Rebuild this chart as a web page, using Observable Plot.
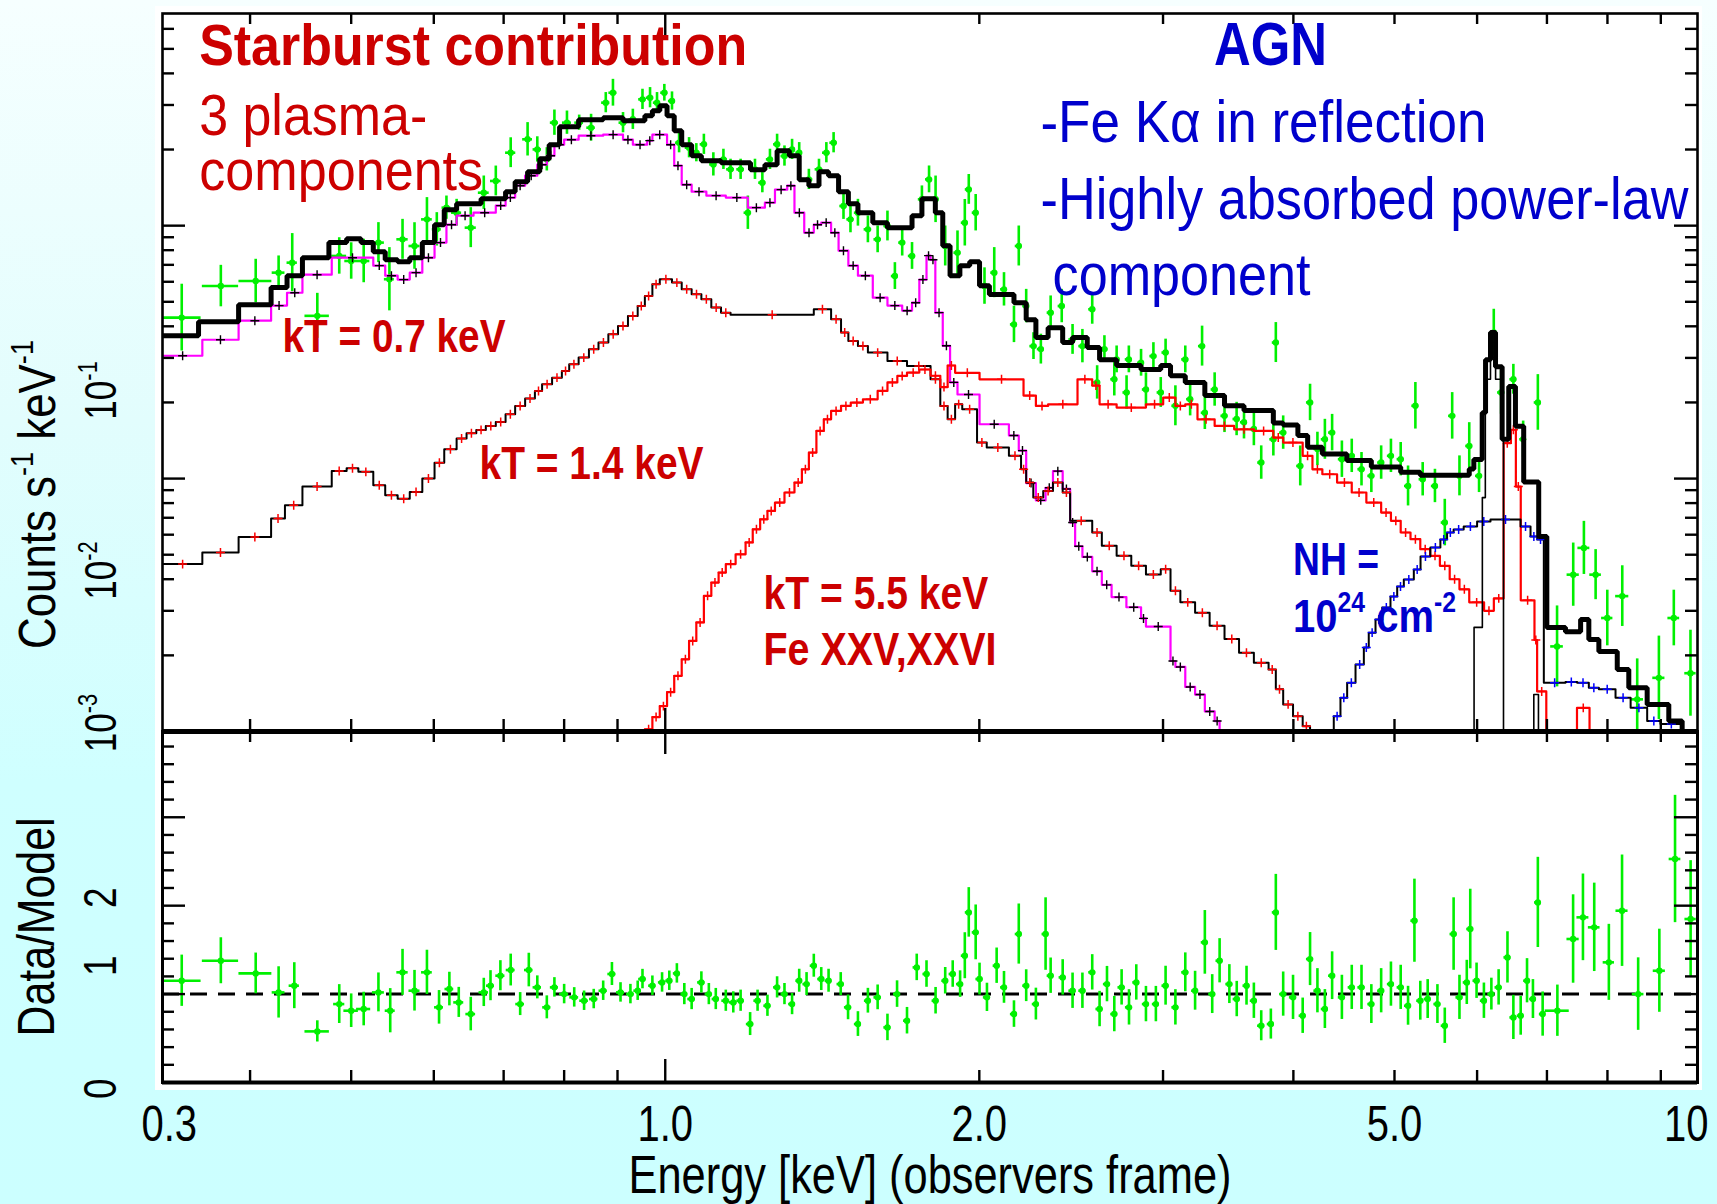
<!DOCTYPE html>
<html><head><meta charset="utf-8">
<script src="https://cdn.jsdelivr.net/npm/d3@7"></script>
<script src="https://cdn.jsdelivr.net/npm/@observablehq/plot@0.6"></script>
<style>
html,body{margin:0;padding:0;}
body{width:1717px;height:1204px;overflow:hidden;background:linear-gradient(180deg,#f6ffff 0%,#e2fdfd 35%,#cfffff 65%,#ccffff 100%);}
#wrap{position:relative;width:1717px;height:1204px;}
#paper{position:absolute;left:155px;top:6px;width:1547px;height:1084px;background:#ffffff;}
#upper{position:absolute;left:0;top:0;}
#lower{position:absolute;left:0;top:700px;}
</style></head>
<body><div id="wrap"><div id="paper"></div><div id="upper"></div><div id="lower"></div></div>
<script>
// ---------------- data ----------------
const xDomain = [0.3297, 9.759];
const yDomainUpper = [0.001, 0.69];
const yDomainLower = [0, 3.97];

// total model (thick black), bin left edges and values [counts s^-1 keV^-1]
const totE = [0.330,0.357,0.390,0.419,0.434,0.449,0.476,0.495,0.511,0.525,0.539,0.554,0.569,0.585,0.601,0.614,0.631,0.666,0.703,0.718,0.738,0.758,0.774,0.792,0.826,0.872,0.911,0.956,0.972,0.988,1.004,1.020,1.037,1.060,1.083,1.131,1.207,1.246,1.280,1.315,1.344,1.373,1.404,1.434,1.466,1.498,1.530,1.581,1.633,1.724,1.762,1.815,1.845,1.875,1.916,1.958,2.001,2.045,2.159,2.218,2.266,2.328,2.404,2.457,2.538,2.608,2.708,2.858,2.985,3.050,3.151,3.290,3.436,3.587,3.827,3.911,4.040,4.128,4.264,4.501,4.751,5.069,5.293,5.897,5.957,6.068,6.113,6.180,6.249,6.341,6.434,6.530,6.650,6.874,6.998,7.292,7.540,7.678,7.850,8.175,8.386,8.733,9.160,9.434];
const totV = [0.0367,0.0417,0.0487,0.0569,0.0634,0.0747,0.0857,0.0888,0.0857,0.0789,0.0733,0.0720,0.0747,0.0857,0.1009,0.1157,0.1222,0.1279,0.1363,0.1492,0.1634,0.1840,0.2090,0.2461,0.2624,0.2673,0.2600,0.2721,0.2848,0.2980,0.2721,0.2373,0.2090,0.1891,0.1806,0.1774,0.1665,0.1742,0.1978,0.1891,0.1520,0.1439,0.1634,0.1576,0.1363,0.1222,0.1125,0.1028,0.0982,0.1095,0.1279,0.1125,0.0833,0.0634,0.0695,0.0720,0.0579,0.0534,0.0496,0.0425,0.0361,0.0395,0.0345,0.0361,0.0330,0.0295,0.0280,0.0270,0.0280,0.0255,0.0240,0.0213,0.0194,0.0186,0.0166,0.0163,0.0148,0.0133,0.0125,0.0118,0.0111,0.0106,0.0103,0.0109,0.0119,0.0182,0.0295,0.0378,0.0277,0.0143,0.0231,0.0161,0.0097,0.0059,0.00258,0.00248,0.00277,0.00231,0.00207,0.00176,0.00149,0.00128,0.00110,0.0007];

// kT = 0.7 keV plasma (magenta)
const m07E = [0.330,0.360,0.390,0.419,0.434,0.449,0.479,0.525,0.539,0.554,0.569,0.585,0.601,0.617,0.631,0.655,0.688,0.703,0.718,0.734,0.754,0.770,0.783,0.800,0.826,0.872,0.911,0.931,0.961,0.972,1.004,1.020,1.037,1.060,1.095,1.143,1.200,1.246,1.274,1.309,1.330,1.359,1.388,1.411,1.442,1.466,1.498,1.530,1.581,1.633,1.687,1.724,1.752,1.780,1.796,1.815,1.845,1.875,1.906,2.001,2.135,2.182,2.218,2.266,2.315,2.353,2.404,2.444,2.471,2.511,2.566,2.621,2.678,2.767,2.858,2.889,3.050,3.083,3.151,3.220,3.290,3.362,3.399];
const m07V = [0.0306,0.0354,0.0421,0.0483,0.0543,0.0640,0.0747,0.0695,0.0634,0.0612,0.0652,0.0747,0.0857,0.1009,0.1095,0.1125,0.1200,0.1291,0.1439,0.1576,0.1742,0.1891,0.2090,0.2187,0.2268,0.2290,0.2187,0.2090,0.2168,0.2290,0.2090,0.1727,0.1452,0.1363,0.1314,0.1291,0.1178,0.1233,0.1388,0.1439,0.1125,0.0938,0.1009,0.1028,0.0938,0.0796,0.0695,0.0634,0.0519,0.0483,0.0461,0.0496,0.0612,0.0761,0.0733,0.0453,0.0335,0.0240,0.0215,0.0164,0.0148,0.0129,0.0096,0.0082,0.0092,0.0107,0.0091,0.0067,0.0054,0.0049,0.0043,0.0038,0.0034,0.0031,0.0028,0.0026,0.0019,0.0018,0.0015,0.0014,0.0012,0.0011,0.0007];

// kT = 1.4 keV plasma (black, red markers)
const m14E = [0.330,0.360,0.390,0.419,0.432,0.449,0.479,0.495,0.508,0.525,0.539,0.554,0.569,0.585,0.601,0.614,0.631,0.645,0.659,0.673,0.688,0.703,0.718,0.734,0.750,0.762,0.779,0.796,0.809,0.826,0.845,0.863,0.882,0.901,0.921,0.941,0.956,0.972,0.988,1.015,1.037,1.060,1.083,1.107,1.131,1.155,1.388,1.442,1.474,1.498,1.530,1.564,1.633,1.705,1.796,1.835,1.865,1.896,1.926,1.990,2.033,2.135,2.193,2.218,2.253,2.303,2.353,2.404,2.444,2.566,2.621,2.708,2.797,2.889,2.985,3.050,3.117,3.220,3.325,3.436,3.548,3.666,3.787,3.848,3.911,3.997,4.083,4.150];
const m14V = [0.00459,0.00510,0.00588,0.00695,0.00784,0.00930,0.01072,0.01098,0.01063,0.00941,0.00859,0.00833,0.00886,0.0100,0.01156,0.01305,0.01439,0.01510,0.01558,0.01615,0.01675,0.01795,0.01938,0.02071,0.02221,0.02359,0.02507,0.02665,0.02830,0.03008,0.03245,0.0345,0.03719,0.04014,0.04395,0.04816,0.05274,0.05861,0.06135,0.05954,0.05600,0.05352,0.05114,0.04742,0.04529,0.04447,0.04669,0.04263,0.0378,0.03502,0.03345,0.03148,0.02919,0.02789,0.02469,0.01938,0.01715,0.01966,0.01879,0.01388,0.01326,0.01230,0.01088,0.00964,0.00841,0.00894,0.00964,0.00881,0.00681,0.00612,0.00542,0.00495,0.00452,0.00418,0.00438,0.00360,0.00324,0.00295,0.00262,0.00232,0.00205,0.00187,0.00176,0.00147,0.00128,0.00115,0.00105,0.0007];

// kT = 5.5 keV plasma with Fe XXV, XXVI lines (red)
const m55E = [0.940,0.956,0.972,0.988,1.004,1.020,1.037,1.054,1.071,1.089,1.107,1.125,1.143,1.168,1.194,1.213,1.233,1.253,1.274,1.301,1.330,1.352,1.373,1.396,1.419,1.442,1.474,1.506,1.547,1.598,1.633,1.669,1.705,1.752,1.796,1.835,1.865,1.896,2.001,2.205,2.266,2.328,2.484,2.566,2.608,2.708,2.889,3.001,3.083,3.151,3.237,3.362,3.510,3.666,3.827,3.911,4.083,4.172,4.264,4.405,4.550,4.699,4.855,4.961,5.069,5.180,5.293,5.409,5.527,5.648,5.771,5.897,6.093,6.226,6.362,6.465,6.536,6.607,6.810,6.850,6.990,7.480,7.690];
const m55V = [0.0007,0.00102,0.00114,0.00126,0.00143,0.00166,0.00193,0.00228,0.00270,0.00344,0.00388,0.00425,0.00459,0.00502,0.00559,0.00630,0.00690,0.00745,0.00804,0.00881,0.00964,0.01088,0.01267,0.01543,0.01715,0.01851,0.01938,0.01997,0.02058,0.02221,0.0240,0.02546,0.02624,0.0270,0.0255,0.0230,0.0280,0.0262,0.02469,0.0213,0.01938,0.01966,0.02469,0.02331,0.01966,0.01908,0.01966,0.02090,0.01938,0.01966,0.01715,0.01615,0.01566,0.01543,0.01453,0.01388,0.01230,0.01088,0.0104,0.00964,0.00881,0.00804,0.00734,0.00681,0.00612,0.00576,0.00526,0.00495,0.00452,0.0040,0.00365,0.00324,0.0030,0.00336,0.0138,0.0156,0.0093,0.0033,0.0023,0.00144,0.0007,0.00124,0.0007];

// highly absorbed power law, NH = 1e24 (black, blue markers)
const plE = [4.300,4.373,4.438,4.504,4.588,4.673,4.724,4.795,4.866,4.956,5.030,5.104,5.218,5.296,5.412,5.533,5.615,5.697,5.825,6.000,6.180,6.604,6.751,6.851,6.952,7.292,7.483,7.678,7.850,8.144,8.420,8.733,8.994,9.434];
const plV = [0.0007,0.00115,0.00136,0.00156,0.00184,0.00215,0.00246,0.00277,0.00309,0.00342,0.00374,0.00399,0.00437,0.00492,0.00534,0.00574,0.00612,0.00629,0.00646,0.00676,0.00689,0.00646,0.0059,0.00574,0.00156,0.00157,0.00156,0.00149,0.00147,0.00136,0.00124,0.0011,0.00107,0.0007];

// Fe K alpha line in reflection (thin black)
const feE = [5.900,5.960,6.070,6.110,6.180,6.250,6.340,6.360,6.800,6.870];
const feV = [0.0007,0.00258,0.00841,0.0247,0.0345,0.0247,0.01426,0.0007,0.0014,0.0007];

// data points, upper panel: energy, counts, error (dex), energy half-width (keV)
const ptE = [0.344,0.375,0.405,0.426,0.439,0.464,0.487,0.500,0.514,0.531,0.544,0.560,0.575,0.591,0.604,0.617,0.631,0.651,0.670,0.688,0.711,0.738,0.754,0.770,0.783,0.805,0.827,0.849,0.877,0.891,0.911,0.931,0.951,0.967,0.982,0.998,1.015,1.031,1.054,1.071,1.089,1.112,1.137,1.155,1.181,1.200,1.219,1.239,1.260,1.280,1.301,1.323,1.344,1.373,1.404,1.427,1.450,1.482,1.505,1.530,1.564,1.598,1.633,1.660,1.687,1.724,1.762,1.790,1.816,1.855,1.906,1.937,1.954,1.984,2.023,2.067,2.112,2.159,2.182,2.218,2.254,2.291,2.341,2.399,2.457,2.511,2.566,2.636,2.708,2.782,2.858,2.937,3.017,3.151,3.270,3.848,2.594,2.694,2.768,2.889,2.985,3.083,3.185,3.290,3.362,3.436,3.529,3.587,3.666,3.726,3.827,3.911,4.061,4.150,4.218,4.288,4.357,4.452,4.550,4.649,4.751,4.855,4.961,5.069,5.152,5.236,5.321,5.467,5.587,5.679,5.771,5.897,6.026,6.225,6.327,6.500,6.642,6.861,7.158,7.418,7.595,7.794,7.997,8.266,8.543,8.962,9.262,9.609];
const ptV = [0.0433,0.0577,0.0604,0.0652,0.0714,0.0440,0.0759,0.0725,0.0725,0.0857,0.0614,0.0883,0.0831,0.1059,0.0967,0.1178,0.1125,0.0982,0.1350,0.1502,0.1943,0.2195,0.2002,0.1829,0.2554,0.2554,0.2554,0.2440,0.3064,0.3354,0.2554,0.2633,0.3158,0.3206,0.3064,0.3354,0.3111,0.2128,0.2033,0.1943,0.2097,0.1747,0.1829,0.1670,0.1670,0.1125,0.1670,0.1479,0.1829,0.2097,0.1885,0.2002,0.1943,0.1524,0.1670,0.1943,0.2128,0.1196,0.1059,0.1125,0.0967,0.0883,0.0997,0.0632,0.0857,0.0759,0.1271,0.1524,0.1271,0.0831,0.0782,0.1027,0.1391,0.1125,0.0577,0.0652,0.0560,0.0407,0.0831,0.0481,0.0334,0.0325,0.0453,0.0481,0.0355,0.0334,0.0467,0.0325,0.0296,0.0296,0.0287,0.0305,0.0315,0.0296,0.0334,0.0345,0.0240,0.0247,0.0219,0.0225,0.0219,0.0194,0.0206,0.0182,0.0225,0.0177,0.0172,0.0167,0.0157,0.01157,0.0143,0.0152,0.01122,0.0200,0.0131,0.0143,0.0152,0.01193,0.0123,0.01089,0.01025,0.01157,0.0123,0.01193,0.00935,0.0194,0.00994,0.00935,0.0067,0.0177,0.01025,0.01346,0.01025,0.0378,0.0219,0.0247,0.0143,0.0200,0.00217,0.00417,0.00532,0.00417,0.00281,0.00343,0.00134,0.00163,0.00281,0.0017];
const ptDex = [0.132,0.082,0.086,0.066,0.115,0.089,0.072,0.072,0.086,0.079,0.125,0.079,0.092,0.086,0.066,0.046,0.053,0.079,0.066,0.059,0.059,0.066,0.050,0.046,0.050,0.046,0.030,0.053,0.040,0.053,0.040,0.040,0.040,0.040,0.040,0.033,0.036,0.040,0.040,0.036,0.040,0.046,0.040,0.040,0.040,0.066,0.040,0.040,0.040,0.040,0.040,0.040,0.040,0.040,0.040,0.040,0.040,0.053,0.053,0.053,0.053,0.053,0.059,0.053,0.053,0.053,0.053,0.053,0.092,0.079,0.086,0.092,0.059,0.072,0.072,0.099,0.066,0.072,0.079,0.066,0.053,0.059,0.066,0.066,0.059,0.066,0.059,0.053,0.053,0.053,0.053,0.053,0.053,0.053,0.079,0.079,0.066,0.066,0.066,0.066,0.059,0.079,0.066,0.066,0.066,0.066,0.066,0.066,0.066,0.066,0.066,0.066,0.079,0.072,0.066,0.079,0.072,0.072,0.066,0.066,0.066,0.066,0.066,0.066,0.079,0.092,0.066,0.066,0.092,0.092,0.079,0.092,0.066,0.092,0.086,0.059,0.072,0.110,0.160,0.125,0.105,0.099,0.110,0.120,0.160,0.165,0.110,0.170];
const ptDE = [0.015,0.015,0.0147,0.006,0.005,0.0125,0.008,0.007,0.007,0.007,0.006,0.007,0.007,0.007,0.006,0.006,0.007,0.008,0.008,0.008,0.008,0.008,0.007,0.007,0.007,0.008,0.008,0.008,0.008,0.008,0.008,0.008,0.008,0.008,0.008,0.008,0.008,0.008,0.009,0.009,0.009,0.009,0.010,0.010,0.010,0.010,0.010,0.010,0.010,0.010,0.010,0.010,0.010,0.012,0.012,0.012,0.012,0.012,0.012,0.012,0.013,0.013,0.013,0.013,0.013,0.014,0.014,0.014,0.014,0.014,0.015,0.015,0.015,0.015,0.016,0.016,0.016,0.017,0.017,0.017,0.018,0.018,0.018,0.019,0.020,0.020,0.020,0.021,0.021,0.022,0.022,0.023,0.024,0.025,0.026,0.030,0.020,0.021,0.022,0.023,0.024,0.024,0.025,0.026,0.026,0.027,0.028,0.028,0.029,0.029,0.030,0.031,0.032,0.033,0.033,0.034,0.034,0.035,0.036,0.037,0.037,0.038,0.039,0.040,0.040,0.041,0.042,0.043,0.044,0.045,0.045,0.046,0.047,0.050,0.050,0.050,0.050,0.055,0.100,0.100,0.100,0.100,0.100,0.120,0.120,0.120,0.120,0.120];

// data / model ratio, lower panel
const rE = [0.344,0.375,0.405,0.426,0.441,0.464,0.487,0.500,0.514,0.531,0.545,0.560,0.575,0.591,0.607,0.621,0.634,0.651,0.670,0.680,0.695,0.711,0.726,0.740,0.754,0.770,0.783,0.800,0.818,0.836,0.854,0.872,0.889,0.906,0.926,0.941,0.951,0.972,0.993,1.009,1.026,1.043,1.060,1.083,1.101,1.118,1.143,1.162,1.181,1.206,1.226,1.253,1.280,1.301,1.323,1.344,1.366,1.388,1.411,1.434,1.473,1.497,1.530,1.564,1.598,1.633,1.668,1.705,1.742,1.780,1.816,1.855,1.886,1.917,1.937,1.954,1.984,2.001,2.034,2.078,2.112,2.159,2.182,2.218,2.266,2.315,2.341,2.404,2.457,2.511,2.566,2.608,2.651,2.694,2.738,2.783,2.828,2.889,2.953,3.017,3.083,3.151,3.220,3.290,3.344,3.399,3.473,3.530,3.607,3.666,3.726,3.806,3.848,3.911,3.997,4.083,4.150,4.218,4.288,4.357,4.452,4.550,4.649,4.751,4.855,4.961,5.069,5.152,5.225,5.293,5.380,5.497,5.587,5.697,5.771,5.865,5.910,5.993,6.091,6.192,6.292,6.416,6.500,6.606,6.699,6.787,6.861,6.934,7.163,7.416,7.579,7.770,8.025,8.262,8.561,8.971,9.287,9.612];
const rV = [1.151,1.377,1.234,1.019,1.095,0.578,0.887,0.812,0.831,1.019,0.812,1.246,1.038,1.246,0.850,1.057,0.906,0.774,1.019,1.095,1.208,1.272,0.887,1.272,1.076,0.850,1.076,1.000,0.963,0.925,0.944,1.038,1.227,1.019,1.000,1.038,1.170,1.095,1.132,1.151,1.234,1.000,0.944,1.132,1.000,0.944,0.925,0.906,0.925,0.661,0.925,0.868,1.076,1.000,0.887,1.151,1.113,1.321,1.170,1.151,1.113,0.850,0.661,0.925,0.963,0.623,1.000,0.699,1.302,1.227,0.925,1.151,1.227,1.113,1.434,1.924,1.698,1.170,0.963,1.321,1.076,0.774,1.679,1.095,0.887,1.679,1.208,1.189,1.038,1.038,1.246,0.831,1.113,0.774,1.076,0.850,1.132,0.887,0.887,1.095,0.850,1.246,1.038,1.585,1.000,1.377,1.113,0.944,1.095,0.925,0.642,0.661,1.924,1.000,0.963,0.755,1.396,1.038,0.831,1.208,0.963,1.076,1.076,0.887,1.038,1.113,1.076,0.868,1.830,0.925,0.944,0.887,0.642,1.679,0.963,1.132,1.736,1.151,0.925,1.000,1.076,1.415,0.736,0.755,1.151,0.944,2.037,0.774,0.812,1.623,1.868,1.755,1.359,1.943,1.000,1.264,2.528,1.849];
const rErr = [0.29,0.26,0.23,0.29,0.26,0.12,0.22,0.19,0.19,0.22,0.25,0.26,0.23,0.25,0.19,0.19,0.17,0.19,0.16,0.17,0.17,0.18,0.13,0.19,0.13,0.13,0.11,0.11,0.11,0.11,0.11,0.11,0.13,0.11,0.11,0.11,0.11,0.11,0.11,0.11,0.11,0.12,0.12,0.12,0.12,0.12,0.12,0.12,0.12,0.13,0.12,0.12,0.12,0.12,0.12,0.13,0.13,0.13,0.13,0.13,0.13,0.14,0.14,0.14,0.14,0.15,0.15,0.15,0.15,0.15,0.15,0.15,0.15,0.15,0.26,0.28,0.31,0.18,0.16,0.20,0.18,0.15,0.34,0.18,0.18,0.41,0.20,0.20,0.20,0.20,0.20,0.20,0.20,0.20,0.20,0.20,0.20,0.20,0.20,0.22,0.20,0.22,0.22,0.36,0.22,0.25,0.22,0.20,0.22,0.20,0.17,0.17,0.43,0.25,0.25,0.20,0.30,0.25,0.22,0.27,0.25,0.25,0.25,0.22,0.25,0.25,0.25,0.22,0.47,0.22,0.22,0.22,0.20,0.41,0.25,0.25,0.45,0.20,0.20,0.18,0.20,0.29,0.25,0.22,0.25,0.22,0.51,0.25,0.29,0.50,0.49,0.50,0.43,0.63,0.41,0.47,0.72,0.66];
const rDE = [0.015,0.015,0.0147,0.006,0.005,0.0125,0.006,0.008,0.008,0.007,0.006,0.007,0.007,0.007,0.006,0.006,0.007,0.007,0.007,0.006,0.007,0.007,0.007,0.007,0.007,0.007,0.007,0.008,0.008,0.008,0.008,0.008,0.008,0.008,0.008,0.008,0.008,0.008,0.008,0.008,0.008,0.008,0.009,0.009,0.009,0.009,0.010,0.010,0.010,0.010,0.010,0.010,0.010,0.010,0.010,0.010,0.011,0.011,0.011,0.011,0.012,0.012,0.012,0.012,0.013,0.013,0.013,0.013,0.014,0.014,0.014,0.014,0.015,0.015,0.015,0.015,0.015,0.016,0.016,0.016,0.016,0.017,0.017,0.017,0.018,0.018,0.018,0.019,0.020,0.020,0.020,0.021,0.021,0.021,0.022,0.022,0.022,0.023,0.023,0.024,0.024,0.025,0.025,0.026,0.026,0.027,0.027,0.028,0.028,0.029,0.030,0.030,0.030,0.031,0.032,0.032,0.033,0.033,0.034,0.034,0.035,0.036,0.037,0.037,0.038,0.039,0.040,0.040,0.041,0.042,0.042,0.043,0.044,0.045,0.045,0.046,0.046,0.047,0.048,0.049,0.050,0.050,0.050,0.050,0.050,0.050,0.050,0.050,0.190,0.100,0.100,0.100,0.100,0.110,0.110,0.120,0.120,0.120];

// ticks and tick labels
const xMinorTicks = [0.4,0.5,0.6,0.7,0.8,0.9,2,3,4,5,6,7,8,9];
const xMajorTicks = [1];
const xTickLabels = ["0.3","1.0","2.0","5.0","10"];
const xTickLabelAt = [0.3346,1,2,5,9.52];
const yUpMinorTicks = [0.002,0.003,0.004,0.005,0.006,0.007,0.008,0.009,0.02,0.03,0.04,0.05,0.06,0.07,0.08,0.09,0.2,0.3,0.4,0.5,0.6];
const yUpMajorTicks = [0.01,0.1];
const yUpTickLabels = ["10^{-1}","10^{-2}","10^{-3}"];
const yUpTickLabelAt = [0.0223,0.00433,0.00108];
const yLoMinorTicks = [0.2,0.4,0.6,0.8,1.2,1.4,1.6,1.8,2.2,2.4,2.6,2.8,3.2,3.4,3.6,3.8];
const yLoMajorTicks = [1,2,3];
const yLoTickLabels = ["2","1","0"];
const yLoTickLabelAt = [2.09,1.32,-0.07];

// annotations: text, energy (keV) and value at the text's left baseline
const annoRedBold = ["Starburst contribution"];
const annoRedBoldE = [0.3575], annoRedBoldV = [0.430];
const annoRed = ["3 plasma-","components"];
const annoRedE = [0.3575,0.3575], annoRedV = [0.2275,0.1379];
const annoKT = ["kT = 0.7 keV","kT = 1.4 keV","kT = 5.5 keV","Fe XXV,XXVI"];
const annoKTE = [0.4297,0.6637,1.242,1.242], annoKTV = [0.03177,0.0100,0.003064,0.001827];
const annoAGN = ["AGN"];
const annoAGNE = [3.803], annoAGNV = [0.430];
const annoBlue = ["-Fe K\u03b1 in reflection","-Highly absorbed power-law","component"];
const annoBlueE = [2.289,2.289,2.351], annoBlueV = [0.2148,0.1066,0.05302];
const annoNH = ["NH =","10^{24} cm^{-2}"];
const annoNHE = [3.997,3.997], annoNHV = [0.004147,0.002485];
// target widths of the texts in the figure (px)
const textWidth = {"Starburst contribution":548,"3 plasma-":228,"components":284,"kT = 0.7 keV":223,"kT = 1.4 keV":224,"kT = 5.5 keV":225,"Fe XXV,XXVI":233,"AGN":113,"-Fe K\u03b1 in reflection":446,"-Highly absorbed power-law":648,"component":258,"NH =":86,"1024 cm-2":163,"Energy [keV] (observers frame)":603,"Data/Model":219,"Counts s-1 keV-1":309};

// ---------------- styling ----------------
const FONT = "'Liberation Sans',Arial,sans-serif";
const CONDENSE = 0.8;
const GREEN = "#00f000", RED = "#ff0000", MAG = "#ff00ff", BLUE = "#0000ff";
const TXTRED = "#cc0000", TXTBLUE = "#0000cc";
const W = 1717, ML = 162, MR = 20;
const FW = W - ML - MR;
const UH = 760, UMT = 13, UMB = 29, UFH = UH - UMT - UMB;
const LH = 504, LMT = 31, LMB = 122, LFH = LH - LMT - LMB;

const steps = (E, V) => E.map((e, i) => ({x: e, y: V[i]}));
const centers = (E, V) => E.slice(0, -1).map((e, i) => ({x: Math.sqrt(e * E[i + 1]), y: V[i]}));
const pts = ptE.map((e, i) => ({e, v: ptV[i], lo: ptV[i] / 10 ** ptDex[i], hi: ptV[i] * 10 ** ptDex[i], e1: e - ptDE[i], e2: e + ptDE[i]}));
const rpts = rE.map((e, i) => ({e, v: rV[i], lo: rV[i] - rErr[i], hi: rV[i] + rErr[i], e1: e - rDE[i], e2: e + rDE[i]}));

function tickMarks(xMinor, xMajor, yMinor, yMajor, FH) {
  const s = {stroke: "black", strokeWidth: 2.4};
  return [
    Plot.tickX(xMinor, {...s, insetBottom: FH - 11}),
    Plot.tickX(xMinor, {...s, insetTop: FH - 12}),
    Plot.tickX(xMajor, {...s, insetBottom: FH - 23}),
    Plot.tickX(xMajor, {...s, insetTop: FH - 23}),
    Plot.tickY(yMinor, {...s, insetRight: FW - 12}),
    Plot.tickY(yMinor, {...s, insetLeft: FW - 12}),
    Plot.tickY(yMajor, {...s, insetRight: FW - 23}),
    Plot.tickY(yMajor, {...s, insetLeft: FW - 23})
  ];
}

const upper = Plot.plot({
  width: W, height: UH, marginTop: UMT, marginBottom: UMB, marginLeft: ML, marginRight: MR,
  style: {background: "transparent", overflow: "visible", fontFamily: FONT},
  x: {type: "log", domain: xDomain, axis: null},
  y: {type: "log", domain: yDomainUpper, axis: null},
  marks: [
    Plot.ruleX(pts, {x: "e", y1: "lo", y2: "hi", stroke: GREEN, strokeWidth: 2.6, clip: true}),
    Plot.ruleY(pts, {y: "v", x1: "e1", x2: "e2", stroke: GREEN, strokeWidth: 2.6, clip: true}),
    Plot.dot(pts, {x: "e", y: "v", r: 3.2, fill: GREEN, clip: true}),
    Plot.line(steps(m07E, m07V), {x: "x", y: "y", curve: "step-after", stroke: MAG, strokeWidth: 2.2, clip: true}),
    Plot.dot(centers(m07E, m07V), {x: "x", y: "y", symbol: "plus", r: 3, stroke: "black", strokeWidth: 1.4, clip: true}),
    Plot.line(steps(m14E, m14V), {x: "x", y: "y", curve: "step-after", stroke: "black", strokeWidth: 2, clip: true}),
    Plot.dot(centers(m14E, m14V), {x: "x", y: "y", symbol: "plus", r: 3, stroke: RED, strokeWidth: 1.5, clip: true}),
    Plot.line(steps(m55E, m55V), {x: "x", y: "y", curve: "step-after", stroke: RED, strokeWidth: 2.2, clip: true}),
    Plot.dot(centers(m55E, m55V), {x: "x", y: "y", symbol: "plus", r: 3, stroke: RED, strokeWidth: 1.5, clip: true}),
    Plot.line(steps(plE, plV), {x: "x", y: "y", curve: "step-after", stroke: "black", strokeWidth: 2, clip: true}),
    Plot.dot(centers(plE, plV), {x: "x", y: "y", symbol: "plus", r: 3, stroke: BLUE, strokeWidth: 1.5, clip: true}),
    Plot.line(steps(feE, feV), {x: "x", y: "y", curve: "step-after", stroke: "black", strokeWidth: 1.6, clip: true}),
    Plot.line(steps(totE, totV), {x: "x", y: "y", curve: "step-after", stroke: "black", strokeWidth: 5, strokeLinejoin: "miter", clip: true}),
    ...tickMarks(xMinorTicks, xMajorTicks, yUpMinorTicks, yUpMajorTicks, UFH),
    Plot.frame({stroke: "black", strokeWidth: 2.6}),
    Plot.ruleY([yDomainUpper[0]], {stroke: "black", strokeWidth: 5}),
    Plot.text(yUpTickLabels, {y: yUpTickLabelAt, text: d => d, frameAnchor: "left", textAnchor: "middle", rotate: -90, dx: -61, fontSize: 44, fill: "black"}),
    Plot.text(["Counts s^{-1} keV^{-1}"], {frameAnchor: "left", textAnchor: "middle", rotate: -90, dx: -124, dy: 122, fontSize: 52, fill: "black"}),
    Plot.text(annoRedBold, {x: annoRedBoldE, y: annoRedBoldV, text: d => d, textAnchor: "start", lineAnchor: "bottom", fontSize: 58, fontWeight: "bold", fill: TXTRED}),
    Plot.text(annoRed, {x: annoRedE, y: annoRedV, text: d => d, textAnchor: "start", lineAnchor: "bottom", fontSize: 58, fill: TXTRED}),
    Plot.text(annoKT, {x: annoKTE, y: annoKTV, text: d => d, textAnchor: "start", lineAnchor: "bottom", fontSize: 46, fontWeight: "bold", fill: TXTRED}),
    Plot.text(annoAGN, {x: annoAGNE, y: annoAGNV, text: d => d, textAnchor: "middle", lineAnchor: "bottom", fontSize: 62, fontWeight: "bold", fill: TXTBLUE}),
    Plot.text(annoBlue, {x: annoBlueE, y: annoBlueV, text: d => d, textAnchor: "start", lineAnchor: "bottom", fontSize: 60, fill: TXTBLUE}),
    Plot.text(annoNH, {x: annoNHE, y: annoNHV, text: d => d, textAnchor: "start", lineAnchor: "bottom", fontSize: 47, fontWeight: "bold", fill: TXTBLUE})
  ]
});

const lower = Plot.plot({
  width: W, height: LH, marginTop: LMT, marginBottom: LMB, marginLeft: ML, marginRight: MR,
  style: {background: "transparent", overflow: "visible", fontFamily: FONT},
  x: {type: "log", domain: xDomain, axis: null},
  y: {domain: yDomainLower, axis: null},
  marks: [
    Plot.ruleY([1], {stroke: "black", strokeWidth: 3, strokeDasharray: "17,11"}),
    Plot.ruleX(rpts, {x: "e", y1: "lo", y2: "hi", stroke: GREEN, strokeWidth: 2.6, clip: true}),
    Plot.ruleY(rpts, {y: "v", x1: "e1", x2: "e2", stroke: GREEN, strokeWidth: 2.6, clip: true}),
    Plot.dot(rpts, {x: "e", y: "v", r: 3.2, fill: GREEN, clip: true}),
    ...tickMarks(xMinorTicks, xMajorTicks, yLoMinorTicks, yLoMajorTicks, LFH),
    Plot.frame({stroke: "black", strokeWidth: 3}),
    Plot.ruleY([0], {stroke: "black", strokeWidth: 4}),
    Plot.text(yLoTickLabels, {y: yLoTickLabelAt, text: d => d, frameAnchor: "left", textAnchor: "middle", rotate: -90, dx: -61, fontSize: 46, fill: "black"}),
    Plot.text(["Data/Model"], {frameAnchor: "left", textAnchor: "middle", rotate: -90, dx: -125, dy: 20, fontSize: 52, fill: "black"}),
    Plot.text(xTickLabels, {x: xTickLabelAt, text: d => d, frameAnchor: "bottom", textAnchor: "middle", lineAnchor: "bottom", dy: 58, fontSize: 50, fill: "black"}),
    Plot.text(["Energy [keV] (observers frame)"], {frameAnchor: "bottom", textAnchor: "middle", lineAnchor: "bottom", dy: 110, fontSize: 53, fill: "black"})
  ]
});

document.getElementById("upper").appendChild(upper);
document.getElementById("lower").appendChild(lower);

// superscripts written as ^{...}
function applySup(root) {
  d3.select(root).selectAll("text").each(function() {
    const t = this.textContent;
    if (!t.includes("^{")) return;
    const fs = parseFloat(getComputedStyle(this).fontSize) || 40;
    const parts = t.split(/(\^\{[^}]*\})/).filter(p => p.length);
    while (this.firstChild) this.removeChild(this.firstChild);
    let raised = false;
    for (const p of parts) {
      const m = p.match(/^\^\{([^}]*)\}$/);
      const ts = document.createElementNS("http://www.w3.org/2000/svg", "tspan");
      if (m) {
        ts.textContent = m[1];
        ts.setAttribute("font-size", (fs * 0.62).toFixed(1));
        ts.setAttribute("dy", (-fs * 0.42).toFixed(1));
        raised = true;
      } else {
        ts.textContent = p;
        if (raised) { ts.setAttribute("dy", (fs * 0.42).toFixed(1)); raised = false; }
      }
      this.appendChild(ts);
    }
  });
}
// condensed lettering like the figure's narrow typeface
function fitWidths(root) {
  d3.select(root).selectAll("text").each(function() {
    let w = textWidth[this.textContent];
    if (!w) w = this.getComputedTextLength() * CONDENSE;
    this.setAttribute("textLength", w.toFixed(1));
    this.setAttribute("lengthAdjust", "spacingAndGlyphs");
  });
}
applySup(upper);
applySup(lower);
fitWidths(upper);
fitWidths(lower);
</script>
</body></html>
